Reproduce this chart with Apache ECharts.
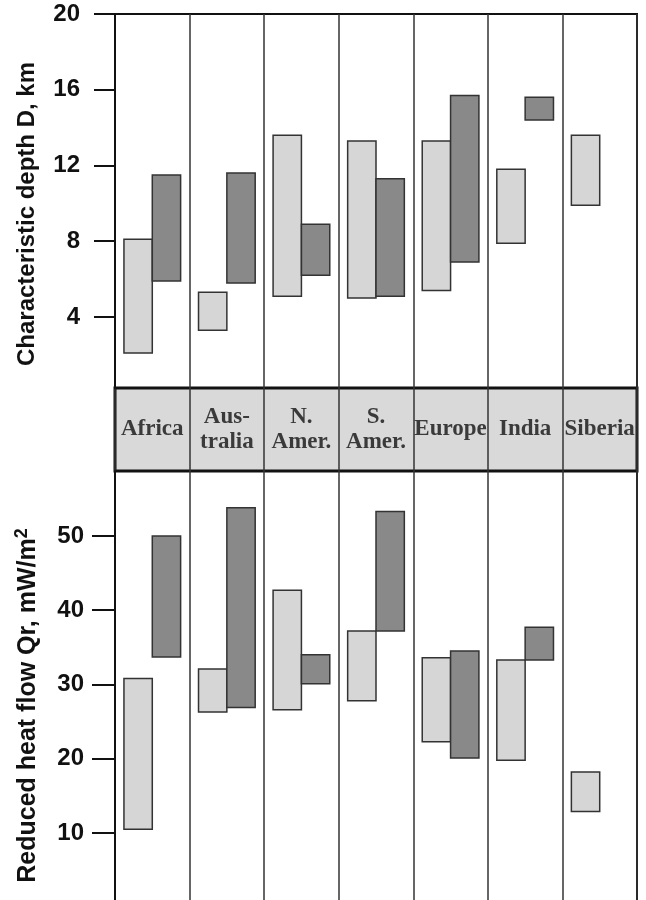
<!DOCTYPE html>
<html><head><meta charset="utf-8">
<script src="https://cdn.jsdelivr.net/npm/echarts@6/dist/echarts.min.js"></script>
<style>html,body{margin:0;padding:0;background:#fff}#c{width:646px;height:900px}</style>
</head><body><div id="c"></div>
<script>
const categories = ['Africa', 'Aus-\ntralia', 'N.\nAmer.', 'S.\nAmer.', 'Europe', 'India', 'Siberia'];
const depthTicks = [4, 8, 12, 16, 20];
const heatTicks = [10, 20, 30, 40, 50];
// Characteristic depth D, km (light = first range, dark = second range)
const depthLightLow  = [2.1, 3.3, 5.1, 5.0, 5.4, 7.9, 9.9];
const depthLightHigh = [8.1, 5.3, 13.6, 13.3, 13.3, 11.8, 13.6];
const depthDarkLow   = [5.9, 5.8, 6.2, 5.1, 6.9, 14.4, null];
const depthDarkHigh  = [11.5, 11.6, 8.9, 11.3, 15.7, 15.6, null];
// Reduced heat flow Qr, mW/m2
const heatLightLow  = [10.5, 26.3, 26.6, 27.8, 22.3, 19.8, 12.9];
const heatLightHigh = [30.8, 32.1, 42.7, 37.2, 33.6, 33.3, 18.2];
const heatDarkLow   = [33.7, 26.9, 30.1, 37.2, 20.1, 33.3, null];
const heatDarkHigh  = [50.0, 53.8, 34.0, 53.3, 34.5, 37.7, null];

const LIGHT = '#d6d6d6', DARK = '#898989';

function barSeries(axisIdx, lows, highs, side, color) {
  const data = lows.map((lo, i) => [i, lo, highs[i]]).filter(d => d[1] != null && d[2] != null);
  return {
    type: 'custom', xAxisIndex: axisIdx, yAxisIndex: axisIdx,
    data: data, encode: { x: 0, y: [1, 2] }, z: 5,
    renderItem: function (params, api) {
      const i = api.value(0);
      const top = api.coord([i, api.value(2)]);
      const bot = api.coord([i, api.value(1)]);
      const band = api.size([1, 0])[0];
      const w = band * 0.38;
      const x = side < 0 ? top[0] - w : top[0];
      return { type: 'rect', shape: { x: x, y: top[1], width: w, height: bot[1] - top[1] },
               style: { fill: color, stroke: '#333', lineWidth: 1.5 } };
    }
  };
}

function xAx(g) {
  return { type: 'category', gridIndex: g, data: categories, boundaryGap: true,
    axisLine: { show: false }, axisTick: { show: false },
    axisLabel: { show: false, interval: 0 },
    splitLine: { show: true, interval: 0, lineStyle: { color: '#333', width: 1.5 } } };
}

const tickFont = { fontFamily: 'Liberation Sans', fontWeight: 'bold', fontSize: 24, color: '#111' };

const option = {
  animation: false,
  backgroundColor: '#ffffff',
  grid: [
    { left: 115, right: 9, top: 14, height: 374, show: true, borderColor: '#111', borderWidth: 2, outerBoundsMode: 'none' },
    { left: 115, right: 9, top: 388, height: 83, show: true, backgroundColor: '#d9d9d9', borderColor: '#111', borderWidth: 3, outerBoundsMode: 'none' },
    { left: 115, right: 9, top: 471, height: 433, show: true, borderColor: '#111', borderWidth: 2, outerBoundsMode: 'none' }
  ],
  xAxis: [xAx(0), xAx(1), xAx(2)],
  yAxis: [
    { type: 'value', gridIndex: 0, min: 0.25, max: 20,
      axisLine: { show: true, lineStyle: { color: '#111', width: 2 } },
      axisTick: { show: true, length: 21, customValues: depthTicks, lineStyle: { color: '#111', width: 2 } },
      axisLabel: Object.assign({ customValues: depthTicks, margin: 35 }, tickFont),
      splitLine: { show: false },
      name: 'Characteristic depth D, km', nameLocation: 'middle', nameGap: 76,
      nameTextStyle: { fontFamily: 'Liberation Sans', fontWeight: 'bold', fontSize: 24, color: '#111', padding: [0, 26, 0, 0] } },
    { type: 'value', gridIndex: 1, min: 0, max: 1, show: false },
    { type: 'value', gridIndex: 2, min: 0.44, max: 58.75,
      axisLine: { show: true, lineStyle: { color: '#111', width: 2 } },
      axisTick: { show: true, length: 23, customValues: heatTicks, lineStyle: { color: '#111', width: 2 } },
      axisLabel: Object.assign({ customValues: heatTicks, margin: 31 }, tickFont),
      splitLine: { show: false },
      name: '{m|Reduced heat flow Qr, mW/m}{s|2}', nameLocation: 'middle', nameGap: 72,
      nameTextStyle: { fontFamily: 'Liberation Sans', fontWeight: 'bold', fontSize: 25, color: '#111', padding: [0, 36, 0, 0],
        rich: {
          m: { fontFamily: 'Liberation Sans', fontWeight: 'bold', fontSize: 25, color: '#111', lineHeight: 30 },
          s: { fontFamily: 'Liberation Sans', fontWeight: 'bold', fontSize: 18, color: '#111', lineHeight: 17, verticalAlign: 'top' }
        } } }
  ],
  series: [
    barSeries(0, depthLightLow, depthLightHigh, -1, LIGHT),
    barSeries(0, depthDarkLow, depthDarkHigh, 1, DARK),
    barSeries(2, heatLightLow, heatLightHigh, -1, LIGHT),
    barSeries(2, heatDarkLow, heatDarkHigh, 1, DARK),
    { type: 'scatter', xAxisIndex: 1, yAxisIndex: 1, symbolSize: 1,
      itemStyle: { color: 'transparent' }, silent: true, z: 6,
      data: categories.map((c, i) => [i, 0.5]),
      label: { show: true, position: 'inside', formatter: p => categories[p.dataIndex],
        fontFamily: 'Liberation Serif', fontWeight: 'bold', fontSize: 23, lineHeight: 25, color: '#111' } }
  ]
};
const chart = echarts.init(document.getElementById('c'), null, { renderer: 'canvas' });
chart.setOption(option);
</script>
</body></html>
